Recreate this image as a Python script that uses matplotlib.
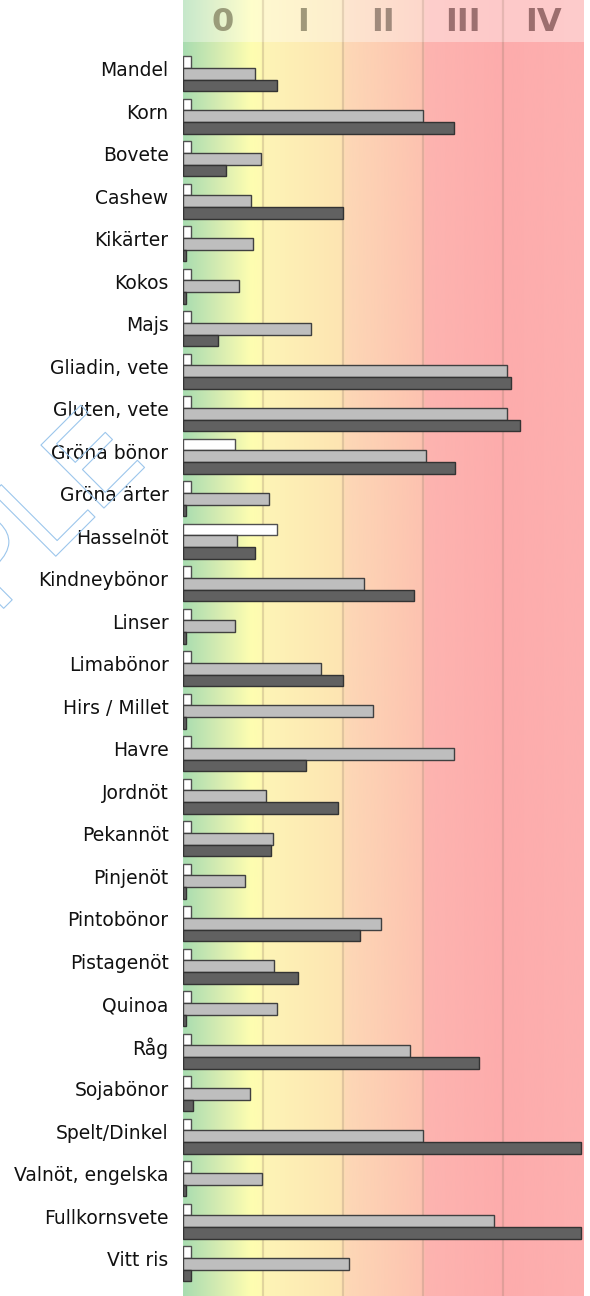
import numpy as np
import matplotlib
matplotlib.use('Agg')
import matplotlib.pyplot as plt
import matplotlib.patheffects as pe

categories = ['Mandel', 'Korn', 'Bovete', 'Cashew', 'Kikärter', 'Kokos', 'Majs',
              'Gliadin, vete', 'Gluten, vete', 'Gröna bönor', 'Gröna ärter', 'Hasselnöt',
              'Kindneybönor', 'Linser', 'Limabönor', 'Hirs / Millet', 'Havre', 'Jordnöt',
              'Pekannöt', 'Pinjenöt', 'Pintobönor', 'Pistagenöt', 'Quinoa', 'Råg',
              'Sojabönor', 'Spelt/Dinkel', 'Valnöt, engelska', 'Fullkornsvete', 'Vitt ris']

# values in class units (0 .. 5)
white_vals = [0.11, 0.11, 0.11, 0.11, 0.11, 0.11, 0.11, 0.11, 0.11, 0.66, 0.11, 1.18,
              0.11, 0.11, 0.11, 0.11, 0.11, 0.11, 0.11, 0.11, 0.11, 0.11, 0.11, 0.11,
              0.11, 0.11, 0.11, 0.11, 0.11]
gray_vals = [0.91, 3.00, 0.98, 0.85, 0.88, 0.71, 1.60, 4.05, 4.05, 3.04, 1.08, 0.68,
             2.26, 0.66, 1.73, 2.38, 3.39, 1.04, 1.13, 0.78, 2.48, 1.14, 1.18, 2.84,
             0.84, 3.00, 0.99, 3.89, 2.08]
dark_vals = [1.18, 3.39, 0.54, 2.00, 0.04, 0.04, 0.44, 4.10, 4.21, 3.40, 0.04, 0.91,
             2.89, 0.04, 2.00, 0.04, 1.54, 1.94, 1.10, 0.04, 2.21, 1.44, 0.04, 3.70,
             0.13, 4.97, 0.04, 4.97, 0.11]

class_labels = ['0', 'I', 'II', 'III', 'IV']
class_colors = ['#9a9c7a', '#a0987a', '#a08a7c', '#9c7070', '#9c6e6e']

# background colour stops (x in class units, rgb)
stops_x = [0.0, 0.45, 0.85, 1.0, 1.02, 2.0, 2.02, 3.0, 3.02, 4.0, 5.0]
stops_rgb = [(168, 220, 176), (214, 236, 178), (254, 254, 176), (254, 250, 178),
             (254, 244, 182), (253, 228, 178), (253, 216, 182), (253, 194, 176),
             (253, 180, 176), (253, 172, 172), (253, 176, 176)]


def gradient_row(n=1000):
  xs = np.linspace(0, 5, n)
  rgb = np.array(stops_rgb, dtype=float) / 255
  img = np.stack([np.interp(xs, stops_x, rgb[:, k]) for k in range(3)], axis=-1)
  return img[np.newaxis, :, :]


W, H = 590, 1296
fig = plt.figure(figsize=(W / 100, H / 100), dpi=100)

left = 182.5 / W
width = 400.5 / W
head_h = 42 / H

ax = fig.add_axes([left, 0, width, 1 - head_h])
hax = fig.add_axes([left, 1 - head_h, width, head_h])

n = len(categories)
y = np.arange(n)
top = -0.624
ylim = (top + 1254 / 42.5, top)

grad = gradient_row()
ax.imshow(grad, extent=(0, 5, ylim[0], ylim[1]), aspect='auto', zorder=0,
          interpolation='bilinear')
for gx in range(1, 5):
  ax.axvline(gx, color='#a08070', alpha=0.3, lw=1.6, zorder=1)

bh = 0.273
ax.barh(y - 0.152, white_vals, height=bh, color='#ffffff', edgecolor='#505050', lw=1.0, zorder=2)
ax.barh(y + 0.123, gray_vals, height=bh, color='#bebebe', edgecolor='#404040', lw=1.0, zorder=2)
ax.barh(y + 0.398, dark_vals, height=bh, color='#616161', edgecolor='#333333', lw=1.0, zorder=2)

ax.set_xlim(0, 5)
ax.set_ylim(*ylim)
ax.set_yticks(y)
ax.set_yticklabels(categories, fontsize=13.5, color='#111111')
ax.tick_params(axis='y', length=0, pad=10)
ax.set_xticks([])
for s in ax.spines.values():
  s.set_visible(False)

# header with class numerals
hgrad = grad * 0.65 + 0.35
hax.imshow(hgrad, extent=(0, 5, 0, 1), aspect='auto', zorder=0, interpolation='bilinear')
for gx in range(1, 5):
  hax.axvline(gx, color='#a08070', alpha=0.25, lw=1.6, zorder=1)
for i, lab in enumerate(class_labels):
  hax.text(i + 0.5, 0.47, lab, ha='center', va='center', fontsize=23,
           fontweight='bold', color=class_colors[i], zorder=2)
hax.set_xlim(0, 5)
hax.set_ylim(0, 1)
hax.axis('off')

# watermark
fig.text(150 / W, 1 - 462 / H, 'SAMPLE', rotation=45, rotation_mode='anchor',
         ha='right', va='baseline', fontsize=88, color='none', zorder=10,
         path_effects=[pe.Stroke(linewidth=0.8, foreground='#9cc6ec')])

fig.savefig('out.png', dpi=100)
